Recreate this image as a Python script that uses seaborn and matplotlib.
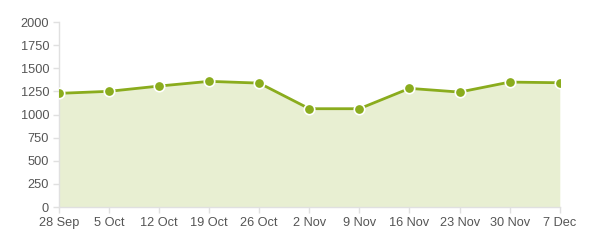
import matplotlib
matplotlib.use("Agg")
import matplotlib.pyplot as plt
import seaborn as sns
import pandas as pd
import numpy as np

dates = ["28 Sep", "5 Oct", "12 Oct", "19 Oct", "26 Oct", "2 Nov", "9 Nov",
         "16 Nov", "23 Nov", "30 Nov", "7 Dec"]
values = [1229, 1251, 1308, 1359, 1340, 1063, 1063, 1283, 1243, 1351, 1344]
yticks = [0, 250, 500, 750, 1000, 1250, 1500, 1750, 2000]

sns.set_style("white")
plt.rcParams['font.family'] = ['Liberation Sans', 'DejaVu Sans']

df = pd.DataFrame({"idx": np.arange(len(dates)), "value": values})

fig = plt.figure(figsize=(6, 2.4), dpi=100)
ax = fig.add_axes([0.098, 0.1375, 0.835, 0.7705])

line_c = "#8aac1d"
fill_c = "#e8efd2"
ax.fill_between(df["idx"], df["value"], 0, color=fill_c, linewidth=0, zorder=1)
sns.lineplot(data=df, x="idx", y="value", ax=ax, color=line_c, linewidth=2,
             marker="o", markersize=7.5, markerfacecolor=line_c,
             markeredgecolor="white", markeredgewidth=1.2, zorder=3)

ax.set_xlim(0, len(dates) - 1)
ax.set_ylim(0, 2000)
ax.set_xticks(df["idx"])
ax.set_xticklabels(dates)
ax.set_yticks(yticks)
ax.set_xlabel("")
ax.set_ylabel("")

for s in ["top", "right"]:
    ax.spines[s].set_visible(False)
for s in ["left", "bottom"]:
    ax.spines[s].set_color("#e0e0e0")
    ax.spines[s].set_linewidth(1)
ax.tick_params(axis="both", colors="#e0e0e0", labelcolor="#555555",
               labelsize=9.2, length=4, width=1, pad=3)
ax.tick_params(axis="both", which="both", direction="out")
ax.xaxis.set_ticks_position("bottom")
ax.yaxis.set_ticks_position("left")

fig.savefig("out.png", dpi=100)
